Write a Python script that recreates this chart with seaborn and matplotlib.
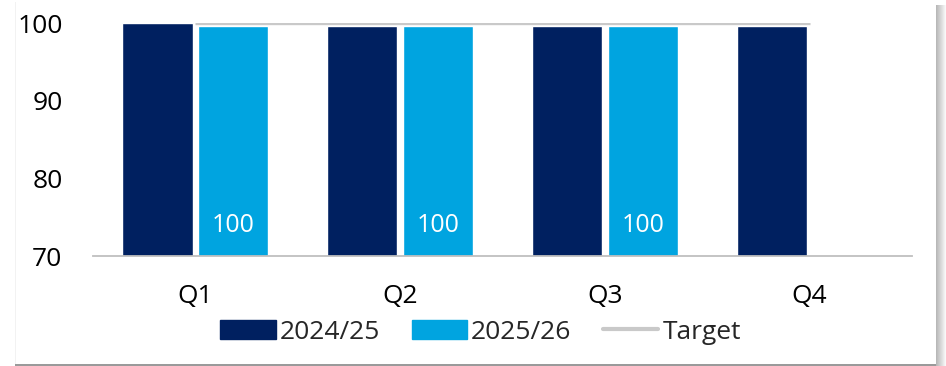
import pandas as pd
import numpy as np
import matplotlib.pyplot as plt
import matplotlib.patches as mpatches
import matplotlib.lines as mlines
import seaborn as sns

# data
quarters = ["Q1", "Q2", "Q3", "Q4"]
fy_2024_25 = [100.0, 99.6, 99.6, 99.6]
fy_2025_26 = [99.6, 99.6, 99.6, np.nan]
target = [100, 100, 100, 100]
series_names = ["2024/25", "2025/26"]

NAVY = "#002060"
CYAN = "#00A4E0"
GREY = "#C9C9C9"

sns.set_theme(style="white")
plt.rcParams["font.family"] = ["Open Sans", "DejaVu Sans"]

df = pd.DataFrame({
    "quarter": quarters * 2,
    "value": fy_2024_25 + fy_2025_26,
    "series": [series_names[0]] * 4 + [series_names[1]] * 4,
})

fig = plt.figure(figsize=(9.46, 3.66), dpi=100)
ax = fig.add_axes([93 / 946, 110 / 366, 819 / 946, 233 / 366])

sns.barplot(
    data=df, x="quarter", y="value", hue="series",
    order=quarters, hue_order=series_names,
    palette=[NAVY, CYAN], width=0.74, gap=0.07,
    saturation=1, errorbar=None, legend=False, ax=ax,
)

ax.plot(range(len(quarters)), target, color=GREY, lw=2.4,
        solid_capstyle="butt", zorder=3)

# white value labels near the bottom of the 2025/26 bars
for patch, v in zip(ax.containers[1], fy_2025_26):
    if np.isnan(v):
        continue
    ax.annotate(f"{v:.0f}", (patch.get_x() + patch.get_width() / 2, 70),
                xytext=(0, 22), textcoords="offset points",
                ha="center", va="center", color="white", fontsize=18)

ax.set_ylim(70, 100)
ax.set_xlim(-0.5, 3.5)
ax.set_yticks([70, 80, 90, 100])
ax.set_xlabel("")
ax.set_ylabel("")
ax.tick_params(axis="both", length=0, labelsize=19, colors="black")
ax.tick_params(axis="y", pad=22)
ax.tick_params(axis="x", pad=20)
for s in ["top", "right", "left"]:
    ax.spines[s].set_visible(False)
ax.spines["bottom"].set_color("#BFBFBF")
ax.spines["bottom"].set_linewidth(1.3)

handles = [
    mpatches.Patch(color=NAVY, label=series_names[0]),
    mpatches.Patch(color=CYAN, label=series_names[1]),
    mlines.Line2D([], [], color=GREY, lw=3, label="Target"),
]
fig.legend(handles=handles, loc="center", bbox_to_anchor=(0.508, 0.092),
           ncol=3, frameon=False, fontsize=19, handlelength=2.1,
           handleheight=0.75, handletextpad=0.15, columnspacing=1.2)

# card outline with a soft shadow on the right and bottom
for i in range(10):
    fig.add_artist(mpatches.Rectangle(
        ((936 + i) / 946, 0), 1 / 946, 361 / 366, transform=fig.transFigure,
        color="black", alpha=0.28 * (1 - i / 10), lw=0))
fig.add_artist(mpatches.Rectangle(
    (15 / 946, 0), 921 / 946, 2 / 366, transform=fig.transFigure,
    color="#9A9A9A", lw=0))
fig.add_artist(mpatches.Rectangle(
    (15 / 946, 2 / 366), 1 / 946, 362 / 366, transform=fig.transFigure,
    color="#F2F2F2", lw=0))

fig.savefig("out.png", dpi=100)
